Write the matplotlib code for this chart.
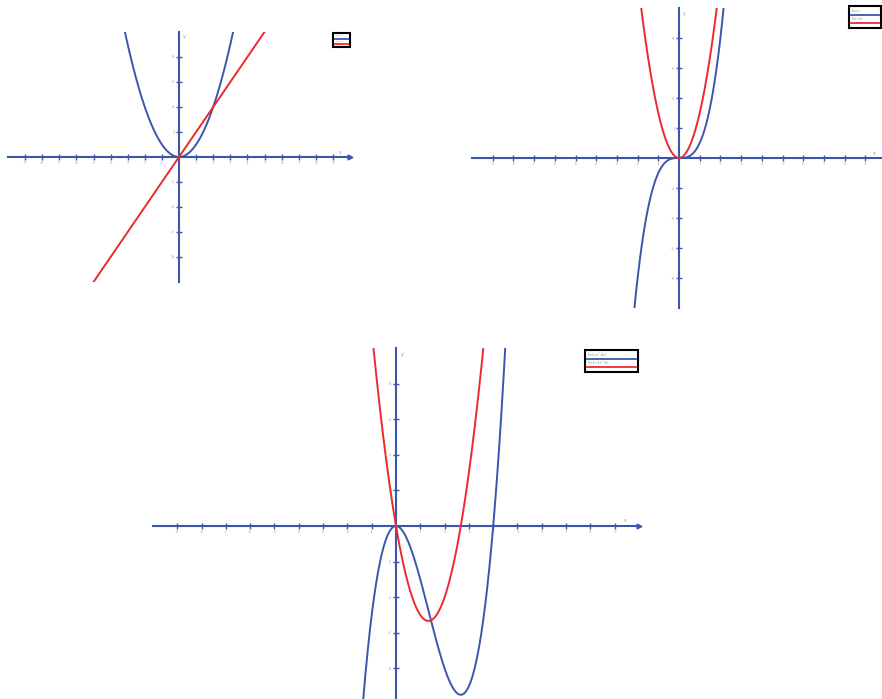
import numpy as np
import matplotlib.pyplot as plt
from matplotlib.lines import Line2D
from matplotlib.patches import Rectangle

# polynomial coefficients, highest power first
f_left = [1, 0, 0]          # x^2
df_left = [2, 0]            # 2x
f_right = [1, 0, 0, 0]      # x^3
df_right = [3, 0, 0]        # 3x^2
f_bottom = [1, -4, 0, 0]    # x^3 - 4x^2
df_bottom = [3, -8, 0]      # 3x^2 - 8x

labels_left = ["f(x)=x²", "f'(x)=2x"]
labels_right = ["f(x)=x³", "f'(x)=3x²"]
labels_bottom = ["f(x)=x³-4x²", "f'(x)=3x²-8x"]

x_ticks = [-9, -8, -7, -6, -5, -4, -3, -2, -1, 1, 2, 3, 4, 5, 6, 7, 8, 9]
y_ticks = [-8, -6, -4, -2, 2, 4, 6, 8]

blue = "#3b57ad"
red = "#ec2a2e"
W, H = 882, 699

fig = plt.figure(figsize=(W / 100, H / 100), dpi=100)


def fx(px):
    return px / W


def fy(py):
    return 1 - py / H


def px_rect(x0, y0, x1, y1):
    return [x0 / W, 1 - y1 / H, (x1 - x0) / W, (y1 - y0) / H]


def key(box, labels, size):
    # small boxed key: caption row above each coloured line
    x0, y0, x1, y1 = box
    h = y1 - y0
    fig.patches.append(Rectangle((fx(x0), fy(y1)), fx(x1 - x0), h / H,
                                 transform=fig.transFigure, fill=True,
                                 facecolor="white", edgecolor="black", lw=1.5))
    for i, (lab, c) in enumerate(zip(labels, [blue, red])):
        ty = y0 + h * (0.12 + 0.4 * i)
        ly = y0 + h * (0.42 + 0.37 * i)
        fig.text(fx(x0 + 3), fy(ty), lab, fontsize=size, color="#8a8fb0",
                 va="top", ha="left")
        fig.lines.append(Line2D([fx(x0 + 2), fx(x1 - 2)], [fy(ly), fy(ly)],
                                transform=fig.transFigure, color=c, lw=1.3))


def graph(rect, f, df):
    ax = fig.add_axes(px_rect(*rect))
    ax.patch.set_visible(False)
    xs = np.linspace(-10, 10, 1001)
    ax.plot(xs, np.polyval(f, xs), color=blue, lw=1.4, zorder=3)
    ax.plot(xs, np.polyval(df, xs), color=red, lw=1.4, zorder=3)
    ax.set_xlim(-10, 10)
    ax.set_ylim(-10, 10)

    for s in ["top", "right"]:
        ax.spines[s].set_visible(False)
    for s in ["left", "bottom"]:
        ax.spines[s].set_position("zero")
        ax.spines[s].set_color(blue)
        ax.spines[s].set_linewidth(1.5)

    ax.set_xticks(x_ticks)
    ax.set_yticks(y_ticks)
    ax.set_xticklabels([str(t) for t in x_ticks])
    ax.set_yticklabels([str(t) for t in y_ticks])
    ax.tick_params(direction="inout", length=4, width=1.0, color=blue,
                   labelsize=3, labelcolor="#b0b0b0", pad=1)

    # arrow on the x axis
    ax.plot(1, 0, ">", transform=ax.get_yaxis_transform(), clip_on=False,
            color=blue, ms=3.5)
    ax.text(0.975, 0.51, "x", transform=ax.transAxes, fontsize=3.5,
            color="#999999", ha="right")
    ax.text(0.51, 0.99, "y", transform=ax.transAxes, fontsize=3.5,
            color="#999999", va="top")
    return ax


graph((8, 32, 350, 282), f_left, df_left)
graph((472, 8, 886, 308), f_right, df_right)
graph((153, 348, 639, 704), f_bottom, df_bottom)

key((333, 33, 350, 47), labels_left, 1.2)
key((849, 6, 881, 28), labels_right, 2.0)
key((585, 350, 638, 372), labels_bottom, 2.6)

fig.savefig("out.png", dpi=100)
